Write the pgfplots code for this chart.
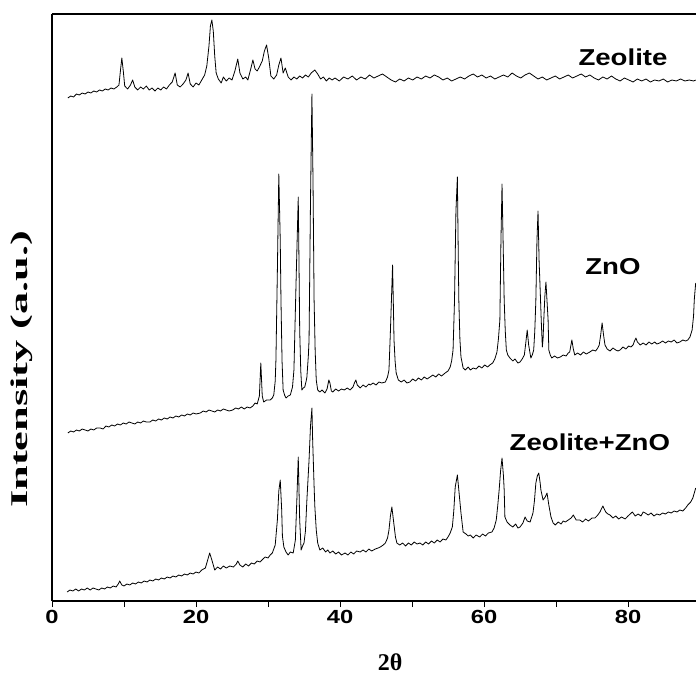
\documentclass[border=0pt]{standalone}
\usepackage{pgfplots}
\pgfplotsset{compat=1.18}
\usepackage{graphicx}
\usepackage{fontspec}
\setmainfont{Liberation Serif}
\setsansfont{Liberation Sans}
\begin{document}
\begin{tikzpicture}
\begin{axis}[
  scale only axis, width=644pt, height=587pt,
  xmin=0, xmax=89.44, ymin=0, ymax=587,
  axis x line*=bottom, axis y line*=left,
  axis line style={-, line width=1.3pt, black},
  xtick={0,20,40,60,80}, minor xtick={10,30,50,70},
  tick align=outside, major tick length=6pt, minor tick length=6pt,
  tick style={line width=0.9pt, black},
  ytick=\empty,
  no markers,
  /pgf/number format/assume math mode=true,
  xticklabel={\scalebox{1.25}[1]{\pgfmathprintnumber{\tick}}},
  xticklabel style={font={\fontsize{19}{19}\selectfont\sffamily\bfseries}},
  xlabel={2θ},
  xlabel style={font={\fontsize{24}{24}\selectfont\rmfamily\bfseries}, at={(axis description cs:0.525,-0.104)}, anchor=center},
  ylabel={\scalebox{1.85}[1]{Intensity (a.u.)}},
  ylabel style={font={\fontsize{24}{24}\selectfont\rmfamily\bfseries}, at={(axis description cs:-0.0466,0.395)}, anchor=center},
  every axis plot post/.append style={black, mark=none, line width=0.8pt, line join=round},
]
% Zeolite
\addplot coordinates {
(2.2,503)(2.6,505)(3.0,504)(3.4,507)(3.8,506)(4.2,508)(4.6,507)(5.0,509)(5.4,508)(5.8,510)(6.2,509)(6.6,511)(7.0,510)(7.4,512)(7.8,511)(8.2,513)(8.6,512)(9.0,514)(9.3,516)(9.5,530)(9.7,543)(9.9,530)(10.1,515)(10.5,512)(10.9,516)(11.2,521)(11.5,514)(11.9,511)(12.3,514)(12.7,512)(13.1,515)(13.5,511)(13.9,513)(14.3,510)(14.7,513)(15.1,511)(15.5,514)(15.9,512)(16.3,516)(16.7,519)(17.1,528)(17.4,516)(17.8,514)(18.2,517)(18.6,521)(18.9,528)(19.2,517)(19.6,514)(20.0,518)(20.4,516)(20.8,521)(21.2,526)(21.5,535)(21.8,555)(22.0,575)(22.2,581)(22.4,570)(22.6,545)(22.8,528)(23.1,522)(23.5,518)(23.8,524)(24.2,520)(24.6,523)(25.0,521)(25.4,530)(25.8,542)(26.1,528)(26.5,522)(26.9,524)(27.2,521)(27.6,532)(27.9,541)(28.2,532)(28.5,530)(28.8,534)(29.2,540)(29.5,550)(29.8,556)(30.1,543)(30.4,525)(30.8,522)(31.2,526)(31.5,536)(31.8,543)(32.1,528)(32.4,533)(32.8,524)(33.2,521)(33.6,524)(34.0,522)(34.4,525)(34.8,523)(35.2,526)(35.6,524)(36.0,528)(36.5,531)(36.9,527)(37.3,522)(37.7,524)(38.1,520)(38.5,523)(38.9,521)
(39.3,523)(39.9,520)(40.5,524)(41.1,522)(41.7,525)(42.3,521)(42.9,524)(43.5,522)(44.1,526)(44.7,523)(45.3,525)(45.9,527)(46.5,524)(47.1,521)(47.7,519)(48.3,522)(48.9,520)(49.5,523)(50.1,521)(50.7,524)(51.3,522)(51.9,525)(52.5,523)(53.1,526)(53.7,524)(54.3,521)(54.9,523)(55.5,520)(56.1,522)(56.7,524)(57.3,522)(57.9,525)(58.5,527)(59.1,524)(59.7,526)(60.3,523)(60.9,525)(61.5,522)(62.1,524)(62.7,526)(63.3,524)(63.9,528)(64.5,525)(65.1,523)(65.7,526)(66.3,528)(66.9,525)(67.5,522)(68.1,524)(68.7,521)(69.3,523)(69.9,525)(70.5,522)(71.1,524)(71.7,526)(72.3,523)(72.9,525)(73.5,527)(74.1,524)(74.7,526)(75.3,523)(75.9,521)(76.5,524)(77.1,522)(77.7,525)(78.3,522)(78.9,520)(79.5,523)(80.1,521)(80.7,519)(81.3,522)(81.9,520)(82.5,522)(83.1,519)(83.7,521)(84.3,520)(84.9,522)(85.5,519)(86.1,521)(86.7,520)(87.3,522)(87.9,520)(88.5,521)(89.1,520)(89.4,521)
};
% ZnO
\addplot coordinates {
(2.2,168)(2.6,170)(3.0,169)(3.4,171)(3.8,170)(4.2,172)(4.6,171)(5.0,170)(5.4,172)(5.8,171)(6.2,173)(6.7,173)(7.1,172)(7.5,175)(7.9,174)(8.3,176)(8.7,175)(9.1,177)(9.5,176)(9.9,178)(10.3,177)(10.7,179)(11.1,178)(11.5,177)(11.9,179)(12.3,178)(12.7,180)(13.1,179)(13.6,179)(14.0,181)(14.4,180)(14.8,182)(15.2,181)(15.6,183)(16.0,182)(16.4,184)(16.8,183)(17.2,185)(17.6,184)(18.0,186)(18.4,185)(18.8,187)(19.2,186)(19.6,188)(20.0,187)(20.6,188)(21.0,190)(21.4,189)(21.8,191)(22.2,190)(22.6,189)(23.0,191)(23.4,190)(23.8,192)(24.2,191)(24.6,190)(25.1,191)(25.5,193)(25.9,192)(26.3,194)(26.7,192)(27.1,194)(27.5,193)(27.9,195)(28.2,198)(28.5,197)(28.8,205)(29.0,238)(29.2,205)(29.4,199)(29.8,201)(30.3,201)(30.6,203)(30.8,206)(31.0,220)(31.1,241)(31.3,330)(31.5,427)(31.7,360)(31.8,301)(31.95,240)(32.1,211)(32.3,206)(32.5,203)(32.8,205)(33.1,206)(33.4,214)(33.6,231)(33.9,320)(34.2,404)(34.3,340)(34.4,271)(34.55,230)(34.7,211)(34.9,213)(35.1,214)(35.3,220)(35.4,224)(35.6,245)(35.7,261)(35.9,400)(36.1,507)(36.25,420)(36.4,301)(36.55,250)(36.7,221)(36.9,211)(37.2,209)(37.5,211)(37.9,208)(38.2,212)(38.45,221)(38.6,218)(38.8,210)(39.0,209)(39.4,212)(39.8,210)(40.2,212)(40.6,211)(41.0,213)(41.4,211)(41.8,214)(42.0,218)(42.2,221)(42.4,216)(42.8,213)(43.2,216)(43.6,214)(44.0,217)(44.2,216)(44.6,218)(45.0,216)(45.4,219)(45.8,218)(46.3,219)(46.6,224)(46.8,231)(47.0,270)(47.3,336)(47.4,300)(47.5,261)(47.65,240)(47.8,228)(48.1,221)(48.5,219)(48.9,221)(49.3,218)(49.7,219)(50.1,222)(50.5,220)(50.9,223)(51.3,221)(51.7,224)(52.1,222)(52.5,224)(52.9,226)(53.3,224)(53.7,227)(54.1,225)(54.6,228)(55.0,230)(55.3,234)(55.5,240)(55.7,251)(55.9,300)(56.1,390)(56.3,424)(56.4,360)(56.5,301)(56.65,262)(56.8,244)(57.1,233)(57.4,231)(57.8,234)(58.1,231)(58.5,233)(58.9,232)(59.3,235)(59.7,233)(60.1,236)(60.5,234)(60.8,236)(61.2,238)(61.5,242)(61.8,249)(62.0,262)(62.2,281)(62.35,360)(62.5,417)(62.65,360)(62.8,301)(62.95,270)(63.1,251)(63.3,246)(63.6,243)(64.0,240)(64.3,242)(64.7,238)(65.0,239)(65.3,242)(65.6,246)(65.8,258)(66.0,271)(66.2,256)(66.5,243)(66.7,246)(66.9,251)(67.05,270)(67.2,301)(67.35,360)(67.5,390)(67.65,340)(67.8,311)(67.95,280)(68.1,254)(68.2,262)(68.3,281)(68.45,305)(68.6,319)(68.75,300)(68.9,281)(69.0,251)(69.2,246)(69.4,243)(69.8,245)(70.2,243)(70.6,244)(71.0,246)(71.4,245)(71.7,248)(71.9,249)(72.05,255)(72.2,261)(72.4,252)(72.6,246)(73.0,248)(73.4,246)(73.8,249)(74.2,247)(74.7,249)(75.1,251)(75.5,250)(75.8,253)(76.0,256)(76.2,266)(76.4,278)(76.6,266)(76.8,256)(77.1,252)(77.5,250)(77.9,253)(78.3,251)(78.6,250)(78.9,251)(79.3,254)(79.7,252)(80.1,255)(80.4,254)(80.7,256)(80.9,260)(81.1,263)(81.3,259)(81.7,256)(82.1,258)(82.5,256)(82.9,259)(83.3,257)(83.7,259)(84.0,257)(84.4,258)(84.8,260)(85.2,258)(85.6,260)(86.0,259)(86.4,261)(86.8,258)(87.2,259)(87.6,261)(88.0,260)(88.3,261)(88.6,264)(88.9,271)(89.1,285)(89.2,301)(89.3,310)(89.4,318)
};
% Zeolite+ZnO
\addplot coordinates {
(2.1,9)(2.5,11)(2.9,10)(3.3,12)(3.7,10)(4.1,12)(4.5,11)(4.9,13)(5.3,11)(5.7,13)(6.1,12)(6.5,11)(6.9,13)(7.3,12)(7.7,14)(8.1,13)(8.5,15)(8.9,14)(9.2,17)(9.4,20)(9.7,16)(10.0,15)(10.4,17)(10.8,16)(11.2,18)(11.6,17)(12.0,19)(12.4,18)(12.8,20)(13.2,19)(13.6,21)(14.0,20)(14.4,22)(14.8,21)(15.2,23)(15.6,22)(16.0,24)(16.4,23)(16.8,25)(17.2,24)(17.6,26)(18.0,25)(18.4,27)(18.8,26)(19.2,28)(19.6,27)(20.0,29)(20.4,28)(20.8,31)(21.3,33)(21.7,43)(21.9,48)(22.2,41)(22.6,31)(23.0,34)(23.4,32)(23.8,35)(24.2,33)(24.7,35)(25.2,34)(25.6,37)(25.8,40)(26.1,36)(26.5,34)(26.9,37)(27.3,35)(27.7,38)(28.1,37)(28.5,40)(28.9,39)(29.3,42)(29.6,44)(30.0,43)(30.3,46)(30.6,48)(31.0,56)(31.3,81)(31.5,110)(31.7,121)(31.9,91)(32.0,65)(32.2,54)(32.5,49)(32.8,46)(33.1,49)(33.5,48)(33.8,61)(34.0,100)(34.2,144)(34.4,81)(34.6,51)(34.8,55)(35.0,58)(35.2,70)(35.4,101)(35.7,141)(35.9,175)(36.1,193)(36.2,161)(36.4,115)(36.5,95)(36.7,71)(36.9,58)(37.2,51)(37.6,53)(38.0,49)(38.3,51)(38.6,48)(39.0,50)(39.4,47)(39.8,49)(40.2,46)(40.7,48)(41.1,46)(41.5,49)(41.9,47)(42.3,50)(42.8,49)(43.2,51)(43.6,49)(44.0,52)(44.4,50)(44.9,52)(45.3,53)(45.6,54)(46.0,56)(46.3,58)(46.6,63)(46.8,71)(47.0,85)(47.2,94)(47.4,82)(47.5,76)(47.7,64)(47.9,58)(48.3,56)(48.7,58)(49.1,55)(49.5,58)(49.9,56)(50.3,59)(50.7,57)(51.1,58)(51.5,56)(51.9,59)(52.3,57)(52.7,60)(53.1,58)(53.5,61)(53.9,59)(54.3,62)(54.7,61)(55.0,64)(55.3,68)(55.6,74)(55.8,90)(56.0,114)(56.3,126)(56.5,111)(56.8,88)(57.1,69)(57.5,67)(57.8,65)(58.1,66)(58.5,63)(58.9,66)(59.4,64)(59.8,67)(60.2,65)(60.6,68)(61.1,69)(61.4,73)(61.7,81)(61.9,95)(62.1,111)(62.3,130)(62.5,143)(62.7,125)(62.8,111)(62.9,84)(63.2,79)(63.6,76)(64.0,74)(64.4,77)(64.7,73)(65.0,74)(65.4,78)(65.7,84)(66.0,80)(66.4,79)(66.8,88)(67.0,100)(67.2,118)(67.4,125)(67.6,128)(67.8,118)(67.9,111)(68.2,101)(68.5,104)(68.75,108)(69.0,96)(69.3,84)(69.6,78)(69.9,76)(70.3,79)(70.7,77)(71.0,80)(71.3,79)(71.7,81)(72.1,83)(72.4,86)(72.8,81)(73.3,81)(73.7,79)(74.1,82)(74.5,80)(75.0,83)(75.4,83)(75.8,86)(76.1,89)(76.5,95)(76.9,89)(77.2,87)(77.5,86)(77.9,83)(78.3,85)(78.7,82)(79.1,84)(79.6,82)(80.0,85)(80.3,87)(80.6,89)(81.0,85)(81.4,87)(81.8,85)(82.1,89)(82.4,88)(82.8,86)(83.2,88)(83.6,85)(84.0,87)(84.4,86)(84.8,88)(85.2,87)(85.6,89)(86.0,88)(86.4,90)(86.8,89)(87.2,91)(87.6,90)(88.0,93)(88.3,96)(88.7,99)(89.0,103)(89.2,108)(89.4,113)
};
\draw[line width=1.3pt] (rel axis cs:0,1) -- (rel axis cs:1,1);
\node[font={\fontsize{23}{23}\selectfont\sffamily\bfseries}] at (axis cs:79.3,544) {\scalebox{1.2}[1]{Zeolite}};
\node[font={\fontsize{23}{23}\selectfont\sffamily\bfseries}] at (axis cs:77.9,334) {\scalebox{1.2}[1]{ZnO}};
\node[font={\fontsize{23}{23}\selectfont\sffamily\bfseries}] at (axis cs:74.7,159) {\scalebox{1.2}[1]{Zeolite+ZnO}};
\end{axis}
\pgfresetboundingbox
\path[use as bounding box] (-52pt,-74pt) rectangle (644pt,601pt);
\end{tikzpicture}
\end{document}
